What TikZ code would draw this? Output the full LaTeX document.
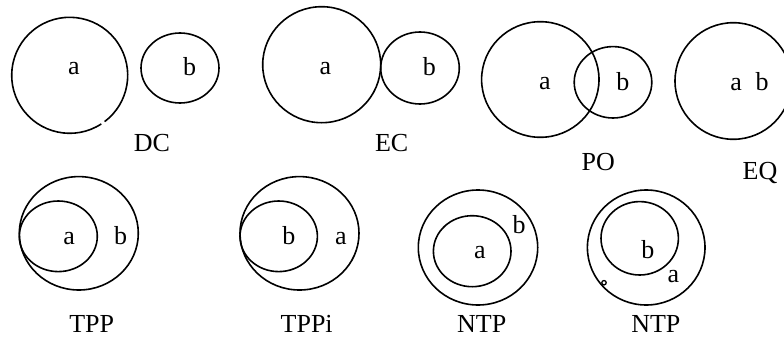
\documentclass[tikz,border=0pt]{standalone}
\usepackage{fontspec}
\setmainfont{Liberation Serif}
\begin{document}
\begin{tikzpicture}[x=1pt,y=-1pt,
  ring/.style={draw=black,line width=1.6pt},
  lbl/.style={inner sep=0pt,font=\fontsize{26}{30}\selectfont}]
\useasboundingbox (0,0) rectangle (784,340);
% DC
\draw[ring] (69.7,75.3) ++(57:58) arc[start angle=57,end angle=413,radius=58];
\draw[ring] (180,68) ellipse[x radius=39,y radius=35];
\node[lbl] (dca) at (74,68.8) {a};
\node[lbl] (dcb) at (189.7,66.3) {b};
\node[lbl] (dc) at (152,143.5) {DC};
% EC
\draw[ring] (321.7,64.7) ellipse[x radius=59,y radius=58];
\draw[ring] (420,68) ellipse[x radius=39.3,y radius=36];
\node[lbl] (eca) at (325.3,68.8) {a};
\node[lbl] (ecb) at (429.3,66.3) {b};
\node[lbl] (ec) at (391.7,143) {EC};
% PO
\draw[ring] (540.3,79.5) ellipse[x radius=58.7,y radius=57.8];
\draw[ring] (613,82.3) ellipse[x radius=38.8,y radius=35.7];
\node[lbl] (poa) at (545,83.7) {a};
\node[lbl] (pob) at (622.8,81.2) {b};
\node[lbl] (po) at (598.3,162) {PO};
% EQ
\draw[ring] (733.3,81) ellipse[x radius=58.3,y radius=58.3];
\node[lbl] (eqa) at (736.2,84.2) {a};
\node[lbl] (eqb) at (762,81.7) {b};
\node[lbl] (eq) at (760,172.5) {EQ};
% TPP
\draw[ring] (78.8,233.3) ellipse[x radius=59.5,y radius=56.7];
\draw[ring] (58.3,236.3) ellipse[x radius=39,y radius=35.3];
\node[lbl] (tppa) at (69.2,238.3) {a};
\node[lbl] (tppb) at (120.5,235.8) {b};
\node[lbl] (tpp) at (91.7,324) {TPP};
% TPPi
\draw[ring] (299.5,233.3) ellipse[x radius=59.5,y radius=56.7];
\draw[ring] (278.7,236.3) ellipse[x radius=38.7,y radius=35.3];
\node[lbl] (tpib) at (288.8,235.8) {b};
\node[lbl] (tpia) at (340.8,238.3) {a};
\node[lbl] (tppi) at (306.7,324) {TPPi};
% NTP 1
\draw[ring] (478,247.5) ellipse[x radius=59.7,y radius=57.5];
\draw[ring] (472.2,251.2) ellipse[x radius=38.8,y radius=35.5];
\node[lbl] (ntpa) at (480,252.2) {a};
\node[lbl] (ntpb) at (519.2,225) {b};
\node[lbl] (ntp) at (481.7,324) {NTP};
% NTP 2
\draw[ring] (646.2,247.5) ellipse[x radius=58.8,y radius=57.5];
\draw[ring] (639.7,238.3) ellipse[x radius=38.7,y radius=36.7];
\draw[black,line width=1.3pt] (604,282.7) circle[radius=2.2];
\node[lbl] (ntqb) at (647.8,249.5) {b};
\node[lbl] (ntqa) at (673.5,276.7) {a};
\node[lbl] (ntq) at (655.8,324) {NTP};
\end{tikzpicture}
\end{document}
